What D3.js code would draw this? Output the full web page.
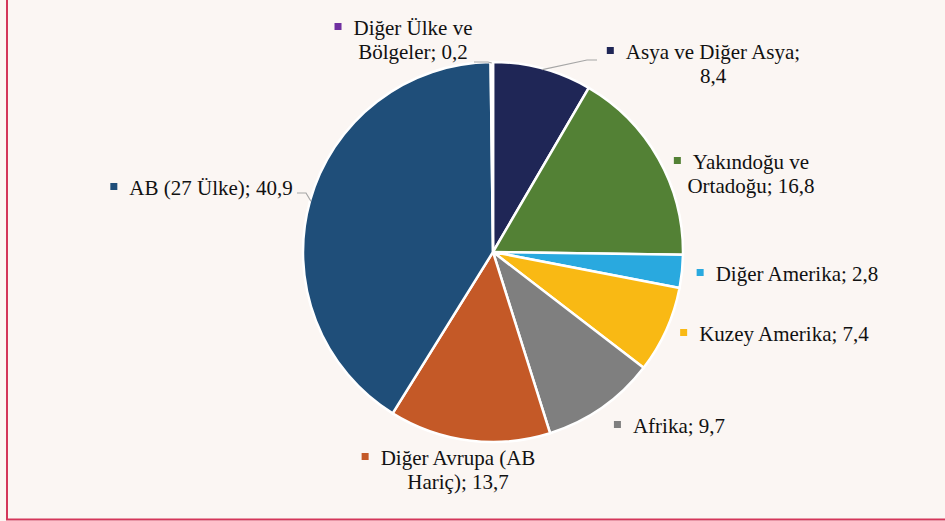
<!DOCTYPE html>
<html>
<head>
<meta charset="utf-8">
<script src="https://cdn.jsdelivr.net/npm/d3@7"></script>
<style>
  body { margin: 0; background: #fbf6f3; }
  svg { display: block; }
</style>
</head>
<body>
<div class="chart"></div>
<script>
// data, clockwise from 12 o'clock
const categories = ["Asya ve Diğer Asya", "Yakındoğu ve Ortadoğu", "Diğer Amerika", "Kuzey Amerika",
  "Afrika", "Diğer Avrupa (AB Hariç)", "AB (27 Ülke)", "Diğer Ülke ve Bölgeler"];
const values = [8.4, 16.8, 2.8, 7.4, 9.7, 13.7, 40.9, 0.2];
const valueLabels = ["8,4", "16,8", "2,8", "7,4", "9,7", "13,7", "40,9", "0,2"];
const colors = ["#1f2656", "#538135", "#29a9df", "#f9b914", "#7f7f7f", "#c45927", "#1f4e79", "#7030a0"];

// label text lines (as wrapped in the original)
const labelLines = [
  ["Asya ve Diğer Asya;", "8,4"],
  ["Yakındoğu ve", "Ortadoğu; 16,8"],
  ["Diğer Amerika; 2,8"],
  ["Kuzey Amerika; 7,4"],
  ["Afrika; 9,7"],
  ["Diğer Avrupa (AB", "Hariç); 13,7"],
  ["AB (27 Ülke); 40,9"],
  ["Diğer Ülke ve", "Bölgeler; 0,2"]
];
// label block centre x and first baseline y
const labelPos = [[713, 59], [751, 169], [797, 281], [784, 341], [679, 433], [458, 465], [211, 195], [413, 35]];
// leader lines: [elbow, end] for the labels that have one
const leaders = { 0: [[587, 60], [597, 60]], 6: [[306, 193], [297, 193]], 7: [[488, 62], [474, 62]] };

const width = 945, height = 521;
const cx = 493, cy = 252, r = 190;

const svg = d3.select(".chart")
  .append("svg")
  .attr("width", width)
  .attr("height", height);

svg.append("rect")
  .attr("width", width)
  .attr("height", height)
  .attr("fill", "#fbf6f3");

// frame lines, left and bottom
svg.append("line")
  .attr("x1", 7).attr("y1", 0).attr("x2", 7).attr("y2", 520)
  .attr("stroke", "#d4365a").attr("stroke-width", 2);
svg.append("line")
  .attr("x1", 6).attr("y1", 519.5).attr("x2", width).attr("y2", 519.5)
  .attr("stroke", "#d4365a").attr("stroke-width", 2);

const pie = d3.pie().sort(null).value(d => d)(values);
const arc = d3.arc().innerRadius(0).outerRadius(r);

const g = svg.append("g").attr("transform", `translate(${cx},${cy})`);

g.selectAll("path")
  .data(pie)
  .join("path")
  .attr("d", arc)
  .attr("fill", (d, i) => colors[i])
  .attr("stroke", "#ffffff")
  .attr("stroke-width", 2.5)
  .attr("stroke-linejoin", "round");

// leader lines
pie.forEach((d, i) => {
  if (!leaders[i]) return;
  const a = (d.startAngle + d.endAngle) / 2;
  const start = [cx + Math.sin(a) * (r - 1), cy - Math.cos(a) * (r - 1)];
  svg.append("polyline")
    .attr("points", [start, ...leaders[i]].map(p => p.join(",")).join(" "))
    .attr("fill", "none")
    .attr("stroke", "#a6a6a6")
    .attr("stroke-width", 1.2);
});

// labels
const labels = svg.selectAll("g.label")
  .data(labelLines)
  .join("g")
  .attr("class", "label");

labels.each(function (lines, i) {
  const grp = d3.select(this);
  const [x, y] = labelPos[i];
  const t = grp.append("text")
    .attr("text-anchor", "middle")
    .attr("font-family", "Liberation Serif")
    .attr("font-size", 21)
    .attr("fill", "#111");
  lines.forEach((line, j) => {
    t.append("tspan")
      .attr("x", x)
      .attr("y", y + j * 24)
      .text(line);
  });
  const w1 = t.select("tspan").node().getComputedTextLength();
  grp.append("rect")
    .attr("x", x - w1 / 2 - 19)
    .attr("y", y - 12)
    .attr("width", 7)
    .attr("height", 7)
    .attr("fill", colors[i]);
});
</script>
</body>
</html>
